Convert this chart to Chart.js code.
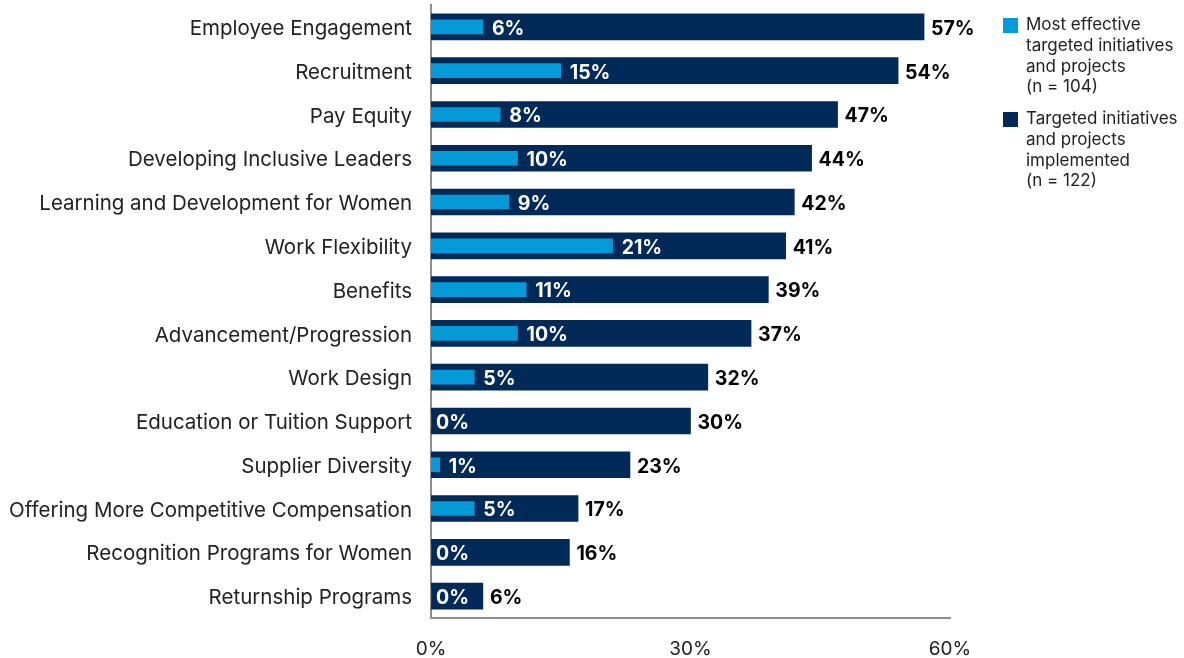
<!DOCTYPE html>
<html>
<head>
<meta charset="utf-8">
<script src="https://cdn.jsdelivr.net/npm/chart.js@4.4.1/dist/chart.umd.min.js"></script>
<style>
  html, body { margin: 0; padding: 0; background: #ffffff; }
  #wrap { position: relative; width: 1184px; height: 658px; }
</style>
</head>
<body>
<div id="wrap"><canvas id="chart" width="1184" height="658"></canvas></div>
<script>
const categories = [
  'Employee Engagement',
  'Recruitment',
  'Pay Equity',
  'Developing Inclusive Leaders',
  'Learning and Development for Women',
  'Work Flexibility',
  'Benefits',
  'Advancement/Progression',
  'Work Design',
  'Education or Tuition Support',
  'Supplier Diversity',
  'Offering More Competitive Compensation',
  'Recognition Programs for Women',
  'Returnship Programs'
];
const implemented = [57, 54, 47, 44, 42, 41, 39, 37, 32, 30, 23, 17, 16, 6];
const mostEffective = [6, 15, 8, 10, 9, 21, 11, 10, 5, 0, 1, 5, 0, 0];
const xTicks = [0, 30, 60];
const legendEffective = ['Most effective', 'targeted initiatives', 'and projects', '(n = 104)'];
const legendImplemented = ['Targeted initiatives', 'and projects', 'implemented', '(n = 122)'];

const NAVY = '#022a58';
const BLUE = '#0499d7';
const FONT = 'Inter, "Noto Sans", sans-serif';

// Value labels: white inside the navy bar for the light series, black outside for the navy series
const valueLabels = {
  id: 'valueLabels',
  afterDatasetsDraw(chart) {
    const ctx = chart.ctx;
    ctx.save();
    ctx.textBaseline = 'middle';
    ctx.textAlign = 'left';
    ctx.font = 'bold 19.5px ' + FONT;
    const metaImp = chart.getDatasetMeta(0);
    const metaEff = chart.getDatasetMeta(1);
    metaImp.data.forEach((bar, i) => {
      ctx.fillStyle = '#000000';
      ctx.fillText(implemented[i] + '%', bar.x + 7, bar.y + 2);
    });
    metaEff.data.forEach((bar, i) => {
      ctx.fillStyle = '#ffffff';
      const pad = mostEffective[i] === 0 ? 5 : 9;
      ctx.fillText(mostEffective[i] + '%', bar.x + pad, bar.y + 2);
    });
    ctx.restore();
  }
};

// Legend on the right with multi-line entries
const sideLegend = {
  id: 'sideLegend',
  afterDraw(chart) {
    const ctx = chart.ctx;
    ctx.save();
    ctx.font = '17px ' + FONT;
    ctx.textBaseline = 'middle';
    ctx.textAlign = 'left';
    const entries = [
      { color: BLUE, lines: legendEffective, top: 25 },
      { color: NAVY, lines: legendImplemented, top: 119 }
    ];
    entries.forEach(e => {
      ctx.fillStyle = e.color;
      ctx.fillRect(1003, e.top - 7, 15, 15);
      ctx.fillStyle = '#222222';
      e.lines.forEach((t, k) => ctx.fillText(t, 1026, e.top + k * 20.7));
    });
    ctx.restore();
  }
};

new Chart(document.getElementById('chart'), {
  type: 'bar',
  data: {
    labels: categories,
    datasets: [
      {
        label: legendImplemented.join(' '),
        data: implemented,
        backgroundColor: NAVY,
        barThickness: 26,
        grouped: false,
        order: 2
      },
      {
        label: legendEffective.join(' '),
        data: mostEffective,
        backgroundColor: BLUE,
        barThickness: 14,
        grouped: false,
        order: 1
      }
    ]
  },
  options: {
    indexAxis: 'y',
    responsive: false,
    animation: false,
    layout: { padding: { top: 5, right: 234, bottom: 0, left: 0 } },
    plugins: {
      legend: { display: false },
      tooltip: { enabled: false }
    },
    scales: {
      x: {
        min: 0,
        max: 60,
        afterBuildTicks(axis) { axis.ticks = xTicks.map(v => ({ value: v })); },
        afterFit(axis) { axis.height = 40; axis.paddingLeft = 0; axis.paddingRight = 0; },
        grid: { display: false, drawTicks: false },
        border: { display: true, color: '#8a8f94', width: 2 },
        ticks: {
          padding: 20,
          color: '#222222',
          font: { family: FONT, size: 19 },
          callback: v => v + '%'
        }
      },
      y: {
        afterFit(axis) { axis.width = 431; axis.paddingTop = 0; axis.paddingBottom = 0; },
        grid: { display: false, drawTicks: false },
        border: { display: true, color: '#8a8f94', width: 2 },
        ticks: {
          padding: 19,
          labelOffset: 2,
          color: '#222222',
          font: { family: FONT, size: 20.5 }
        }
      }
    }
  },
  plugins: [valueLabels, sideLegend]
});
</script>
</body>
</html>
